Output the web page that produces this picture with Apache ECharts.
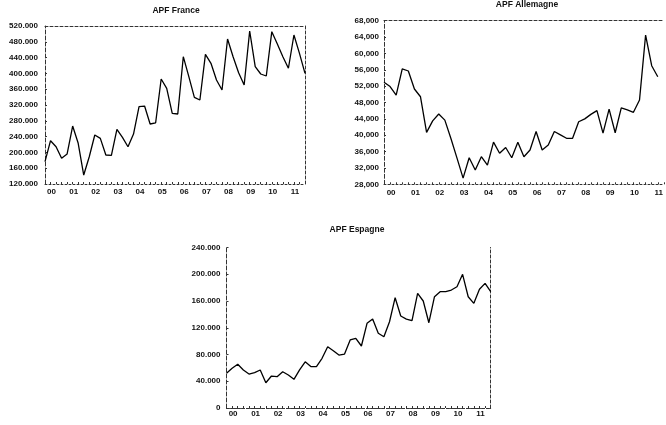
<!DOCTYPE html>
<html>
<head>
<meta charset="utf-8">
<script src="https://cdn.jsdelivr.net/npm/echarts@6/dist/echarts.min.js"></script>
<style>html,body{margin:0;padding:0;background:#fff}#c{width:666px;height:425px}</style>
</head>
<body>
<div id="c"></div>
<script>
// ---- data (quarterly, 2000Q1 .. 2011Q4) ----
const years = ['00','01','02','03','04','05','06','07','08','09','10','11'];
const quarterNames = ['Q1','Q2','Q3','Q4'];
const franceValues = [176500,229600,214400,185000,196000,266800,223000,142700,189000,244000,235600,193400,192600,258400,238000,214400,246500,315700,317400,271900,275000,385800,362000,299000,297200,442300,391700,339500,332600,448300,425600,383300,358000,487000,442000,401800,370600,507300,417000,398500,393400,505600,474400,442300,413000,497200,450800,400000];
const allemagneValues = [52940,51900,49800,56200,55700,51300,49400,40700,43500,45200,43700,39200,34400,29500,34500,31500,34750,32700,38300,35600,37000,34500,38300,34750,36400,40900,36400,37600,40900,40100,39250,39250,43300,44000,45100,46000,40500,46400,40600,46700,46200,45600,48600,64500,57000,54300];
const espagneValues = [51900,59300,65300,56800,50800,52800,56800,37800,47800,46800,54300,49300,42900,57000,69000,62000,62000,74300,91600,85700,79200,80700,101700,104200,92700,126600,133000,111700,106600,129000,164900,137500,133000,130500,171500,160000,127500,166400,173900,173900,176400,181300,199900,166400,156500,177500,186400,173900];
const titles = ['APF France','APF Allemagne','APF Espagne'];

const quarters = [];
years.forEach(y => quarterNames.forEach(q => quarters.push('20' + y + q)));
// the Allemagne panel is cut at the right edge of the picture (last visible quarter: 2011Q3)
const allemagneQuarters = quarters.slice(0, 47);

const chart = echarts.init(document.getElementById('c'), null, {renderer: 'canvas'});
const FONT = 'Liberation Sans, Arial, sans-serif';
const frameLine = {show: true, lineStyle: {color: '#333', width: 1, type: [3, 2]}};

function fmtDot(v){ if (v === 0) return '0'; return String(Math.round(v/1000)) + '.000'; }
function fmtComma(v){ if (v === 0) return '0'; return String(Math.round(v/1000)) + ',000'; }

const grids = [
  {left: 45, top: 26, width: 260, height: 158},
  {left: 384, top: 20.7, right: 0, height: 163.6},
  {left: 226.5, top: 247.5, width: 264.2, height: 160.5}
];
const yRanges = [
  {min: 120000, max: 520000, interval: 40000, fmt: fmtDot, margin: 7},
  {min: 28000, max: 68000, interval: 4000, fmt: fmtComma, margin: 5},
  {min: 0, max: 240000, interval: 40000, fmt: fmtDot, margin: 6}
];
const xCats = [quarters, allemagneQuarters, quarters];
const showRight = [true, false, true];
const xMargins = [4, 4, 2];
const seriesData = [franceValues, allemagneValues, espagneValues];

const xAxis = [], yAxis = [], series = [];
grids.forEach((g, i) => {
  xAxis.push({
    type: 'category', gridIndex: i, data: xCats[i], boundaryGap: false, position: 'bottom',
    axisLine: {show: true, lineStyle: {color: '#333', width: 1, type: [2, 2]}},
    axisTick: {show: true, inside: true, length: 2, interval: 0, lineStyle: {color: '#333'}},
    splitLine: {show: false},
    axisLabel: {
      show: true, interval: idx => idx % 4 === 1, margin: xMargins[i],
      formatter: v => v.slice(2, 4), color: '#111', fontSize: 8, fontWeight: 'bold', fontFamily: FONT,
      padding: [0, 0, 0, 2]
    }
  });
  xAxis.push({
    type: 'category', gridIndex: i, data: xCats[i], boundaryGap: false, position: 'top',
    axisLine: frameLine, axisTick: {show: false}, axisLabel: {show: false}, splitLine: {show: false}
  });
  const r = yRanges[i];
  yAxis.push({
    type: 'value', gridIndex: i, min: r.min, max: r.max, interval: r.interval, position: 'left',
    axisLine: {show: true, lineStyle: {color: '#333', width: 1, type: [4, 2]}},
    axisTick: {show: true, inside: true, length: 2, lineStyle: {color: '#333'}},
    splitLine: {show: false},
    axisLabel: {margin: r.margin, formatter: r.fmt, color: '#111', fontSize: 8, fontWeight: 'bold', fontFamily: FONT}
  });
  yAxis.push({
    type: 'value', gridIndex: i, min: r.min, max: r.max, interval: r.interval, position: 'right',
    axisLine: Object.assign({}, frameLine, {show: showRight[i]}),
    axisTick: {show: false}, axisLabel: {show: false}, splitLine: {show: false}
  });
  series.push({
    type: 'line', xAxisIndex: i * 2, yAxisIndex: i * 2, data: seriesData[i],
    showSymbol: false, symbol: 'none', lineStyle: {color: '#000', width: 1.3}, animation: false
  });
});

const titlePos = [[176, 11], [527, 5], [357, 230]];
const graphic = titles.map((t, i) => ({
  type: 'text', x: titlePos[i][0], y: titlePos[i][1],
  style: {text: t, textAlign: 'center', textVerticalAlign: 'middle', font: 'bold 8.5px ' + FONT, fill: '#111'}
}));

chart.setOption({
  animation: false,
  backgroundColor: '#fff',
  grid: grids,
  xAxis: xAxis,
  yAxis: yAxis,
  series: series,
  graphic: graphic
});
</script>
</body>
</html>
